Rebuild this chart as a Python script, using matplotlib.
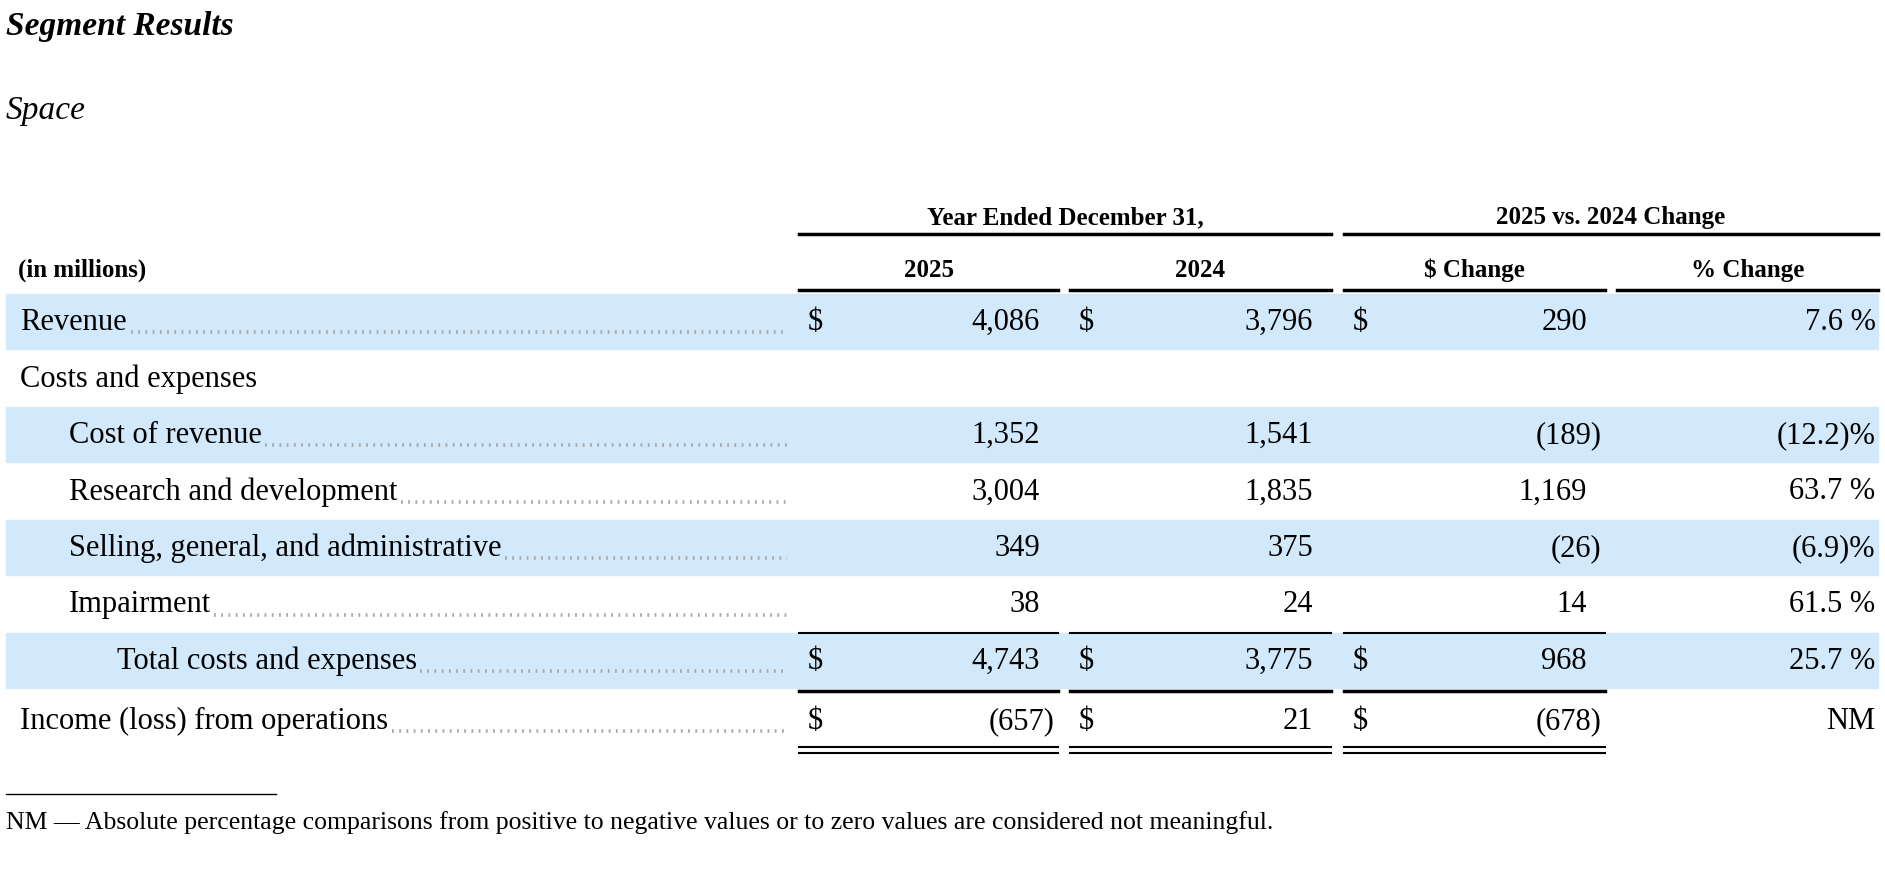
import matplotlib

matplotlib.use("Agg")

import matplotlib.pyplot as plt

title = "Segment Results"
subtitle = "Space"
row_labels = ["Revenue", "Costs and expenses", "Cost of revenue", "Research and development",
              "Selling, general, and administrative", "Impairment", "Total costs and expenses",
              "Income (loss) from operations"]
row_indent = [0, 0, 1, 1, 1, 1, 2, 0]
val_2025 = ["4,086", "", "1,352", "3,004", "349", "38", "4,743", "(657)"]
val_2024 = ["3,796", "", "1,541", "1,835", "375", "24", "3,775", "21"]
chg_abs = ["290", "", "(189)", "1,169", "(26)", "14", "968", "(678)"]
chg_pct = ["7.6 %", "", "(12.2)%", "63.7 %", "(6.9)%", "61.5 %", "25.7 %", "NM"]
dollar_rows = [0, 6, 7]
shaded_rows = [0, 2, 4, 6]
footnote = "NM \u2014 Absolute percentage comparisons from positive to negative values or to zero values are considered not meaningful."

FONT = "Liberation Serif"
W, H = 1568, 730
fig = plt.figure(figsize=(18.85, 8.78), dpi=100)
ax = fig.add_axes([0, 0, 1, 1])
ax.set_xlim(0, W)
ax.set_ylim(H, 0)
ax.axis("off")

ax.text(5, 22, title, fontsize=24, fontweight="bold", fontstyle="italic", family=FONT, va="center")
ax.text(5, 92, subtitle, fontsize=24, fontstyle="italic", family=FONT, va="center")

cols = [(665, 880), (890, 1107), (1118, 1335), (1345, 1562)]
hdr = dict(fontsize=18, fontweight="bold", family=FONT, ha="center", va="center")
ax.text(886, 181, "Year Ended December 31,", **hdr)
ax.text(1340, 181, "2025 vs. 2024 Change", **hdr)
ax.plot([665, 1107], [195, 195], color="black", lw=2.5)
ax.plot([1118, 1562], [195, 195], color="black", lw=2.5)
ax.text(15, 225, "(in millions)", fontsize=18, fontweight="bold", family=FONT, va="center")
for (x0, x1), name in zip(cols, ["2025", "2024", "$ Change", "% Change"]):
    ax.text((x0 + x1) / 2, 225, name, **hdr)
    ax.plot([x0, x1], [242, 242], color="black", lw=2.5)

row_h = 47
y0 = 268
body = dict(fontsize=22, family=FONT, va="center")
fig.canvas.draw()
renderer = fig.canvas.get_renderer()
inv = ax.transData.inverted()
for i, label in enumerate(row_labels):
    y = y0 + i * row_h + (3 if i == 7 else 0)
    if i in shaded_rows:
        ax.add_patch(plt.Rectangle((5, y - 23), 1557, 46, color="#d2e9fb", zorder=0))
    x = [17, 57, 97][row_indent[i]]
    t = ax.text(x, y, label, **body)
    if i != 1:
        bb = t.get_window_extent(renderer)
        xe = inv.transform((bb.x1, 0))[0]
        ax.plot([xe + 3, 655], [y + 9, y + 9], color="#a8a8a8", lw=2.6,
                linestyle=(0, (0.5, 1.5)), solid_capstyle="round")
    for (x0, x1), vals in zip(cols[:3], [val_2025, val_2024, chg_abs]):
        v = vals[i]
        if v:
            xr = x1 - 3 if v.startswith("(") else x1 - 15
            ax.text(xr, y, v, ha="right", **body)
        if i in dollar_rows:
            ax.text(x0 + 7, y, "$", ha="left", **body)
    if chg_pct[i]:
        ax.text(1560, y, chg_pct[i], ha="right", **body)

for x0, x1 in cols[:3]:
    ax.plot([x0, x1], [527, 527], color="black", lw=1.5)
    ax.plot([x0, x1], [575, 575], color="black", lw=2.5)
    ax.plot([x0, x1], [622, 622], color="black", lw=1.5)
    ax.plot([x0, x1], [627, 627], color="black", lw=1.5)

ax.plot([5, 230], [661, 661], color="black", lw=1)
ax.text(5, 684, footnote, fontsize=18.5, family=FONT, va="center")

fig.savefig("out.png", dpi=100)
